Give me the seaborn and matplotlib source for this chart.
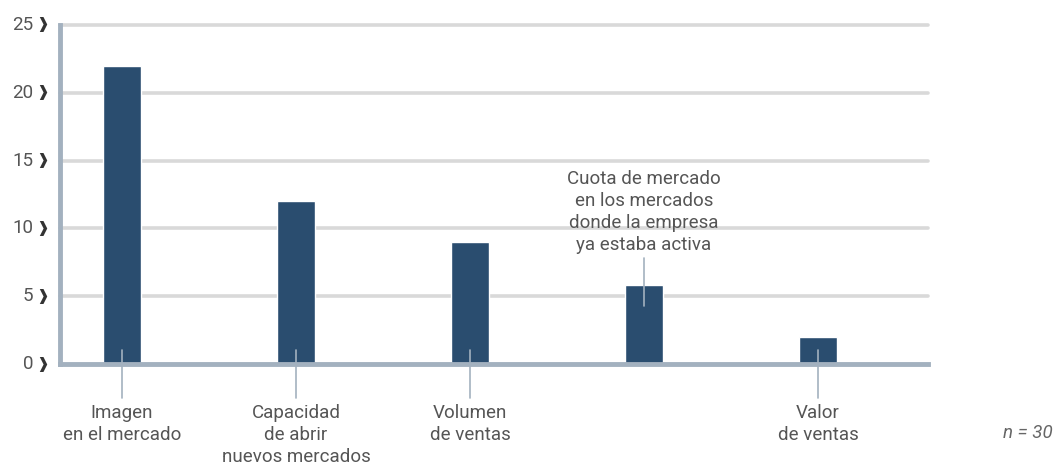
import matplotlib
matplotlib.use("Agg")
import matplotlib.pyplot as plt
import seaborn as sns
import pandas as pd

categories = ["Imagen\nen el mercado",
              "Capacidad\nde abrir\nnuevos mercados",
              "Volumen\nde ventas",
              "Cuota de mercado\nen los mercados\ndonde la empresa\nya estaba activa",
              "Valor\nde ventas"]
values = [22, 12, 9, 5.8, 2]
yticks = [0, 5, 10, 15, 20, 25]
note = "n = 30"

BAR = "#2a4d6f"
AXIS = "#a3b1bf"
GRID = "#d9d9d9"
TEXT = "#555555"
FS = 13.5

sns.set_theme(style="white")
plt.rcParams["font.family"] = ["Roboto", "DejaVu Sans"]

fig = plt.figure(figsize=(10.59, 4.73), dpi=100)
W, H = 1059, 473
ax = fig.add_axes([60 / W, (H - 364) / H, 868 / W, 339 / H])

df = pd.DataFrame({"cat": categories, "val": values})
sns.barplot(data=df, x="cat", y="val", color=BAR, width=0.218,
            saturation=1, ax=ax, zorder=3)

ax.set_xlim(-0.356, 4.632)
ax.set_ylim(0, 25)
ax.set_xlabel("")
ax.set_ylabel("")
ax.set_xticks(range(len(categories)))
ax.set_xticklabels([""] * len(categories))
ax.tick_params(axis="x", length=0)

# horizontal guides
for v in yticks[1:]:
    ax.axhline(v, color=GRID, lw=2.6, zorder=1, clip_on=False)

# y tick labels with a chevron marker
ax.set_yticks(yticks)
ax.set_yticklabels([])
ax.tick_params(axis="y", length=0)
for v in yticks:
    ax.text(-0.031, v, str(v), transform=ax.get_yaxis_transform(),
            ha="right", va="center", fontsize=FS, color=TEXT)
    ax.text(-0.0205, v, "\u2771", transform=ax.get_yaxis_transform(),
            ha="center", va="center", fontsize=11, color="#333333",
            family="DejaVu Sans", fontweight="bold")

for s in ["top", "right"]:
    ax.spines[s].set_visible(False)
for s in ["left", "bottom"]:
    ax.spines[s].set_color(AXIS)
    ax.spines[s].set_linewidth(3.5)
    ax.spines[s].set_zorder(4)
ax.spines["left"].set_capstyle("projecting")

# category labels with leader lines
for i, (lab, v) in enumerate(zip(categories, values)):
    if i == 3:
        ax.plot([i, i], [v - 1.5, 7.8], color=AXIS, lw=1.2, zorder=5)
        ax.text(i, 8.1, lab, ha="center", va="bottom", fontsize=FS,
                color=TEXT, linespacing=1.3, zorder=5)
    else:
        ax.plot([i, i], [1.0, -2.5], color=AXIS, lw=1.2, zorder=5,
                clip_on=False)
        ax.text(i, -2.95, lab, ha="center", va="top", fontsize=FS,
                color=TEXT, linespacing=1.3)

fig.text(1053 / W, 1 - 433 / H, note, ha="right", va="center",
         fontsize=FS, style="italic", color="#666666")

fig.savefig("out.png", dpi=100)
